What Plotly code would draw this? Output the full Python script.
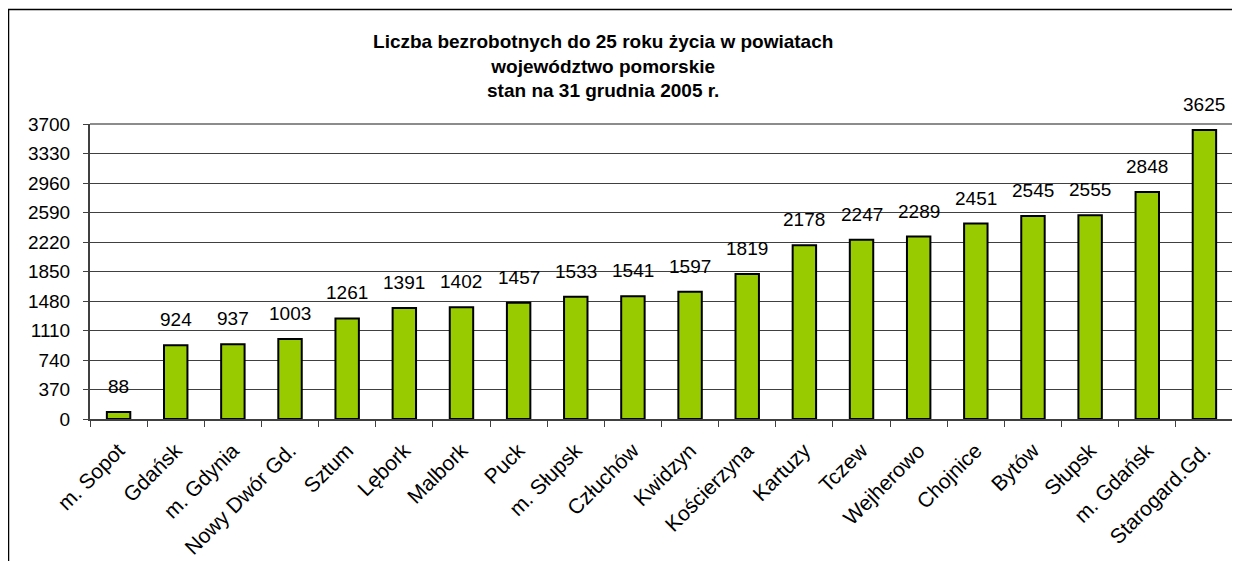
import plotly.graph_objects as go

# powiaty, posortowane rosnąco
powiaty = ['m. Sopot', 'Gdańsk', 'm. Gdynia', 'Nowy Dwór Gd.', 'Sztum', 'Lębork',
           'Malbork', 'Puck', 'm. Słupsk', 'Człuchów', 'Kwidzyn', 'Kościerzyna',
           'Kartuzy', 'Tczew', 'Wejherowo', 'Chojnice', 'Bytów', 'Słupsk',
           'm. Gdańsk', 'Starogard.Gd.']
bezrobotni = [88, 924, 937, 1003, 1261, 1391, 1402, 1457, 1533, 1541, 1597, 1819,
              2178, 2247, 2289, 2451, 2545, 2555, 2848, 3625]
y_ticks = [0, 370, 740, 1110, 1480, 1850, 2220, 2590, 2960, 3330, 3700]

FONT = 'Liberation Sans, Arial, sans-serif'

fig = go.Figure(go.Bar(
    x=powiaty, y=bezrobotni,
    marker=dict(color='#99cc00', line=dict(color='#000000', width=2)),
    cliponaxis=False,
))

# etykiety wartości nad słupkami
for name, val in zip(powiaty, bezrobotni):
    fig.add_annotation(x=name, y=val, text=str(val), showarrow=False,
                       yanchor='bottom', yshift=13,
                       font=dict(size=19, color='#000000', family=FONT))

fig.update_layout(
    width=1232, height=553,
    margin=dict(l=82, r=7, t=116, b=142, autoexpand=False),
    paper_bgcolor='white', plot_bgcolor='white',
    bargap=0.59,
    showlegend=False,
    font=dict(family=FONT, color='#000000', size=18),
    title=dict(
        text='<b>Liczba bezrobotnych do 25 roku życia w powiatach<br>województwo pomorskie<br>stan na 31 grudnia 2005 r.</b>',
        x=0.449, xanchor='center', xref='paper', y=0.928, yanchor='middle',
        font=dict(size=19, family=FONT, color='#000000'),
    ),
)

fig.update_xaxes(
    tickangle=-45, tickson='boundaries', ticks='outside', ticklen=6,
    tickcolor='#404040', showline=True, linecolor='#404040', linewidth=2,
    tickfont=dict(size=21, family=FONT), showgrid=False, automargin=False,
    ticklabelstandoff=9,
)
fig.update_yaxes(
    range=[0, 3700], tickvals=y_ticks, ticks='outside', ticklen=5,
    tickcolor='#404040', showline=True, linecolor='#404040', linewidth=2,
    showgrid=True, gridcolor='#404040', gridwidth=1, zeroline=False,
    tickfont=dict(size=19, family=FONT), automargin=False,
    ticklabelstandoff=9,
)

# ramka wykresu (góra szara, prawa jasnoszara) i ramka całego obrazka
fig.add_shape(type='line', xref='paper', yref='paper', x0=0, x1=1, y0=1, y1=1,
              line=dict(color='#8c8c8c', width=2))
fig.add_shape(type='line', xref='paper', yref='paper', x0=1, x1=1, y0=-0.02, y1=1,
              line=dict(color='#b0b0b0', width=1))
fig.add_shape(type='rect', xref='paper', yref='paper', x0=-0.0713, x1=1.1, y0=-0.6, y1=1.388,
              line=dict(color='#000000', width=1.5), layer='above')

fig.write_html('out.html')
